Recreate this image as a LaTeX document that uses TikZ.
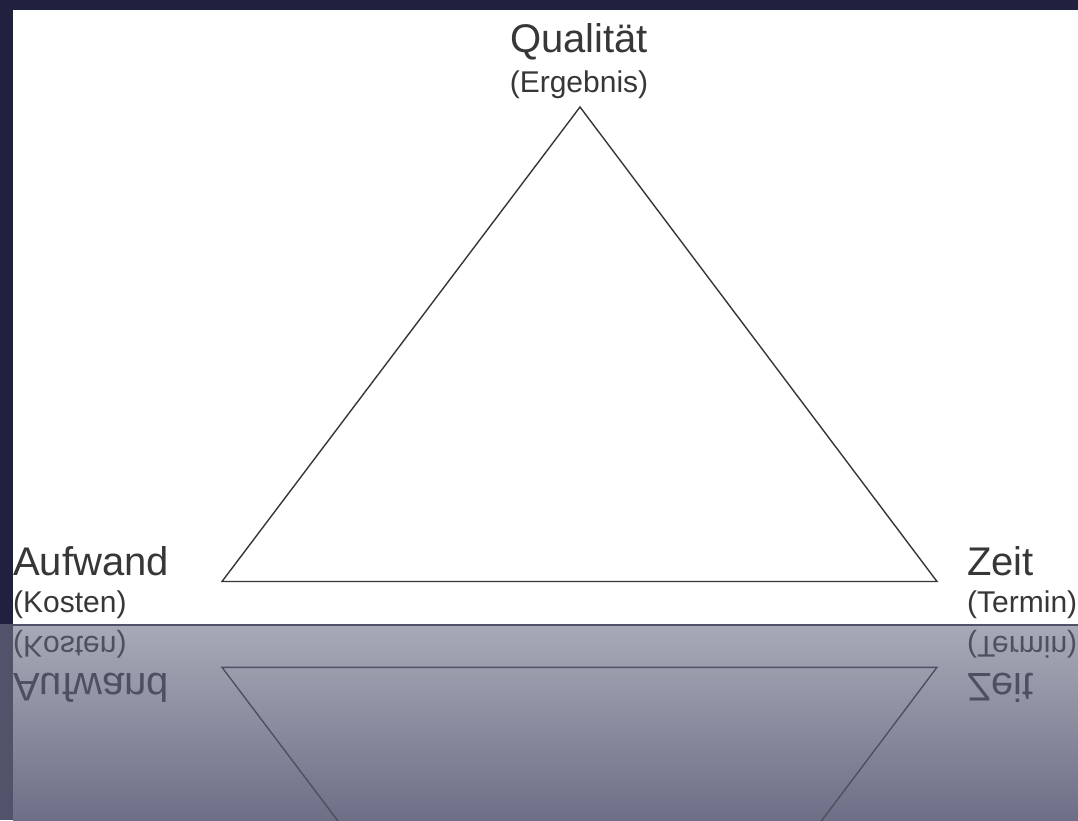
\documentclass[tikz,border=0pt]{standalone}
\usepackage{fontspec}
\setmainfont{Liberation Sans}
\definecolor{navy}{RGB}{32,33,62}
\definecolor{schrift}{RGB}{55,55,55}
\definecolor{spiegel}{RGB}{78,79,96}
\definecolor{bodenlinks}{RGB}{82,83,106}
\definecolor{bodenoben}{RGB}{168,169,182}
\definecolor{bodenunten}{RGB}{110,111,135}
\definecolor{kantefarbe}{RGB}{80,82,106}
\tikzset{
  gross/.style={inner sep=0pt,font=\fontsize{40}{44}\selectfont},
  klein/.style={inner sep=0pt,font=\fontsize{30}{34}\selectfont},
  kante/.style={line width=1.4pt,line join=miter}
}
%% triangle with its corner labels, #1 = name prefix
\newcommand{\dreieckbild}[1]{%
    \coordinate (#1oben) at (580,107);
    \coordinate (#1links) at (222,581.5);
    \coordinate (#1rechts) at (937,581.5);
    \draw[kante] (#1links) -- (#1oben) -- (#1rechts) -- cycle;
    \node[gross,anchor=base west] (#1aufwand) at (13,575) {Aufwand};
    \node[klein,anchor=base west] (#1kosten) at (13,612) {(Kosten)};
    \node[gross,anchor=base west] (#1zeit) at (967,575) {Zeit};
    \node[klein,anchor=base west] (#1termin) at (967,612) {(Termin)};
}
\begin{document}
\begin{tikzpicture}[x=1pt,y=-1pt]
    \useasboundingbox (0,0) rectangle (1078,820);
    %% background
    \fill[navy] (0,0) rectangle (1078,820);
    \fill[white] (13,10) rectangle (1078,624);
    %% floor with reflection
    \fill[bodenlinks] (0,624) rectangle (13,820);
    \shade[top color=bodenoben,bottom color=bodenunten] (13,626) rectangle (1078,820);
    \fill[kantefarbe] (13,623.5) rectangle (1078,626);
    %% picture
    \begin{scope}[draw=schrift,text=schrift]
        \dreieckbild{}
        \node[gross,anchor=base] (qualitaet) at (579,52) {Qualität};
        \node[klein,anchor=base] (ergebnis) at (579,92) {(Ergebnis)};
    \end{scope}
    %% mirrored copy
    \begin{scope}
        \clip (0,626) rectangle (1078,820);
        \begin{scope}[shift={(0,1248.8)},yscale=-1,transform shape,draw=spiegel,text=spiegel]
            \dreieckbild{s}
        \end{scope}
    \end{scope}
\end{tikzpicture}
\end{document}
